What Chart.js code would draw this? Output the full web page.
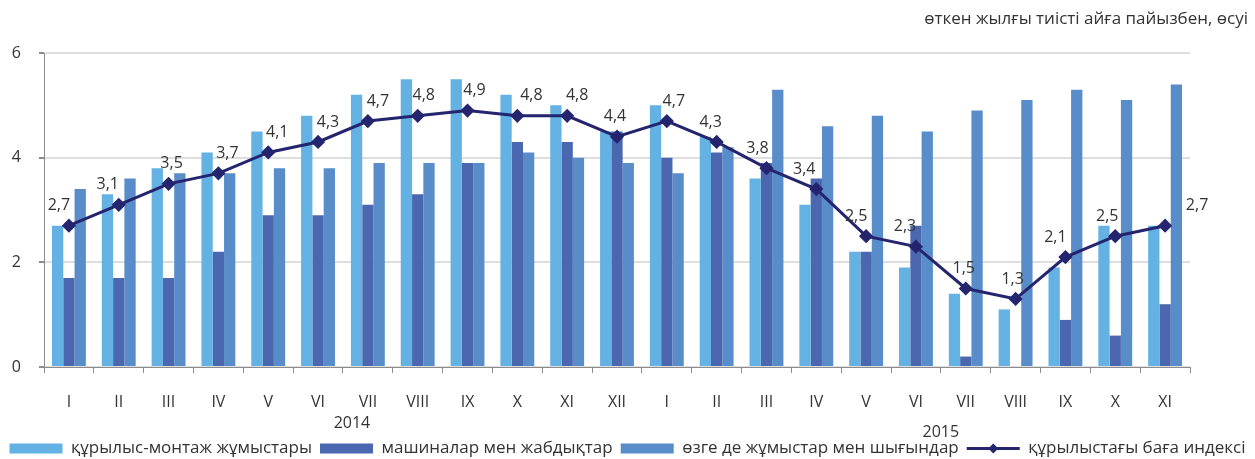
<!DOCTYPE html>
<html>
<head>
<meta charset="utf-8">
<script src="https://cdn.jsdelivr.net/npm/chart.js@4"></script>
<style>
  html, body { margin: 0; padding: 0; background: #fff; }
</style>
</head>
<body>
<canvas id="priceChart" width="1255" height="459"></canvas>
<script>
// months of 2014 (I-XII) and 2015 (I-XI)
var months = ['I','II','III','IV','V','VI','VII','VIII','IX','X','XI','XII',
              'I','II','III','IV','V','VI','VII','VIII','IX','X','XI'];
var years = ['2014', '2015'];

// % growth against the same month of previous year
var installWorks = [2.7, 3.3, 3.8, 4.1, 4.5, 4.8, 5.2, 5.5, 5.5, 5.2, 5.0, 4.5,
                    5.0, 4.4, 3.6, 3.1, 2.2, 1.9, 1.4, 1.1, 1.9, 2.7, 2.7];
var machinery    = [1.7, 1.7, 1.7, 2.2, 2.9, 2.9, 3.1, 3.3, 3.9, 4.3, 4.3, 4.5,
                    4.0, 4.1, 3.9, 3.6, 2.2, 2.7, 0.2, 0.0, 0.9, 0.6, 1.2];
var otherCosts   = [3.4, 3.6, 3.7, 3.7, 3.8, 3.8, 3.9, 3.9, 3.9, 4.1, 4.0, 3.9,
                    3.7, 4.2, 5.3, 4.6, 4.8, 4.5, 4.9, 5.1, 5.3, 5.1, 5.4];
var priceIndex   = [2.7, 3.1, 3.5, 3.7, 4.1, 4.3, 4.7, 4.8, 4.9, 4.8, 4.8, 4.4,
                    4.7, 4.3, 3.8, 3.4, 2.5, 2.3, 1.5, 1.3, 2.1, 2.5, 2.7];
var yTicks = [0, 2, 4, 6];

// small horizontal nudges for the value labels on the line
var labelShift = [-10, -11, 3, 9, 9, 10, 10, 6, 7, 14, 10, -2,
                  7, -6, -9, -12, -10, -11, -2, -3, -10, -8, 32];

var FONT = 'Open Sans';
var TEXT = '#333333';

var lightBlue = '#63b2e3';
var darkBlue = '#4a67b0';
var midBlue = '#598dca';
var navy = '#25256f';

Chart.defaults.font.family = FONT;
Chart.defaults.font.size = 16;
Chart.defaults.color = TEXT;

// value labels above the line points
var lineLabels = {
  id: 'lineLabels',
  afterDatasetsDraw: function(chart) {
    var meta = chart.getDatasetMeta(3);
    var ctx = chart.ctx;
    ctx.save();
    ctx.font = '16px "' + FONT + '"';
    ctx.fillStyle = TEXT;
    ctx.textAlign = 'center';
    ctx.textBaseline = 'middle';
    meta.data.forEach(function(pt, i) {
      var txt = priceIndex[i].toFixed(1).replace('.', ',');
      ctx.fillText(txt, pt.x + labelShift[i], pt.y - 20);
    });
    ctx.restore();
  }
};

// unit note at top right and the year captions under the months
var extraText = {
  id: 'extraText',
  afterDraw: function(chart) {
    var ctx = chart.ctx;
    var x = chart.scales.x;
    var bottom = chart.chartArea.bottom;
    ctx.save();
    ctx.font = '17px "' + FONT + '"';
    ctx.fillStyle = TEXT;
    ctx.textBaseline = 'middle';
    ctx.textAlign = 'right';
    ctx.fillText('өткен жылғы тиісті айға пайызбен, өсуі', 1248, 19);
    ctx.font = '16px "' + FONT + '"';
    ctx.textAlign = 'center';
    var x2014 = (x.getPixelForValue(5) + x.getPixelForValue(6)) / 2 + 9;
    var x2015 = (x.getPixelForValue(17) + x.getPixelForValue(18)) / 2;
    ctx.fillText(years[0], x2014, bottom + 56);
    ctx.fillText(years[1], x2015, bottom + 65);

    // legend entry for the line: a line with a diamond
    var legend = chart.legend;
    var idx = -1;
    legend.legendItems.forEach(function(it, i) { if (it.datasetIndex === 3) idx = i; });
    var box = legend.legendHitBoxes[idx];
    if (box) {
      var bw = legend.options.labels.boxWidth;
      var cy = box.top + box.height / 2;
      ctx.strokeStyle = navy;
      ctx.lineWidth = 3;
      ctx.beginPath();
      ctx.moveTo(box.left, cy);
      ctx.lineTo(box.left + bw, cy);
      ctx.stroke();
      ctx.fillStyle = navy;
      ctx.beginPath();
      ctx.moveTo(box.left + bw / 2, cy - 5);
      ctx.lineTo(box.left + bw / 2 + 5, cy);
      ctx.lineTo(box.left + bw / 2, cy + 5);
      ctx.lineTo(box.left + bw / 2 - 5, cy);
      ctx.closePath();
      ctx.fill();
    }
    ctx.restore();
  }
};

var ctx = document.getElementById('priceChart').getContext('2d');
var priceChart = new Chart(ctx, {
  type: 'bar',
  data: {
    labels: months,
    datasets: [{
      label: 'құрылыс-монтаж жұмыстары',
      data: installWorks,
      backgroundColor: lightBlue,
      order: 1
    }, {
      label: 'машиналар мен жабдықтар',
      data: machinery,
      backgroundColor: darkBlue,
      order: 1
    }, {
      label: 'өзге де жұмыстар мен шығындар',
      data: otherCosts,
      backgroundColor: midBlue,
      order: 1
    }, {
      type: 'line',
      label: 'құрылыстағы баға индексі',
      data: priceIndex,
      borderColor: navy,
      backgroundColor: navy,
      borderWidth: 3,
      pointStyle: 'rectRot',
      pointRadius: 5,
      pointBackgroundColor: navy,
      pointBorderColor: navy,
      tension: 0,
      order: 0
    }]
  },
  options: {
    responsive: false,
    animation: false,
    devicePixelRatio: 1,
    datasets: {
      bar: { categoryPercentage: 0.68, barPercentage: 1.0 }
    },
    layout: { padding: { top: 53, left: 0, right: 0, bottom: -8 } },
    plugins: {
      tooltip: { enabled: false },
      legend: {
        position: 'bottom',
        labels: {
          boxWidth: 53,
          boxHeight: 10,
          padding: 8,
          color: TEXT,
          font: { size: 17 },
          generateLabels: function(chart) {
            var items = Chart.defaults.plugins.legend.labels.generateLabels(chart);
            items.sort(function(a, b) { return a.datasetIndex - b.datasetIndex; });
            items.forEach(function(it) {
              it.lineWidth = 0;
              if (it.datasetIndex === 3) {
                it.fillStyle = 'rgba(0,0,0,0)';
                it.strokeStyle = 'rgba(0,0,0,0)';
              }
            });
            return items;
          }
        }
      }
    },
    scales: {
      x: {
        offset: true,
        grid: {
          display: true,
          drawOnChartArea: false,
          drawTicks: true,
          tickLength: 6,
          tickColor: '#8c8c8c',
          offset: true
        },
        border: { display: true, color: '#8c8c8c', width: 1 },
        ticks: { padding: 20, maxRotation: 0, autoSkip: false, font: { size: 16 } },
        afterFit: function(s) { s.height = 65; }
      },
      y: {
        min: 0,
        max: 6,
        afterBuildTicks: function(s) {
          s.ticks = yTicks.map(function(v) { return { value: v }; });
        },
        grid: {
          color: '#dedede',
          lineWidth: 2,
          tickLength: 5,
          tickColor: '#8c8c8c'
        },
        border: { display: true, color: '#8c8c8c', width: 1 },
        ticks: { padding: 18, font: { size: 16 } },
        afterFit: function(s) { s.width = 44; }
      },
      yRight: {
        position: 'right',
        display: true,
        grid: { display: false },
        border: { display: false },
        ticks: { display: false },
        afterFit: function(s) { s.width = 65; }
      }
    }
  },
  plugins: [lineLabels, extraText]
});
</script>
</body>
</html>
